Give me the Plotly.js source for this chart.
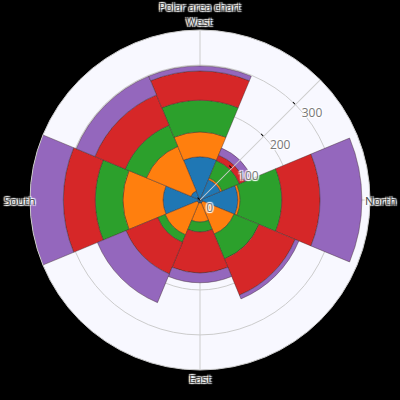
<!DOCTYPE html>
<html>
<head>
<meta charset="utf-8">
<script src="https://cdn.plot.ly/plotly-3.0.1.min.js"></script>
<style>html,body{margin:0;padding:0;background:#000;}#chart{width:400px;height:400px;}</style>
</head>
<body>
<div id="chart"></div>
<script>
// directions in degrees, measured clockwise from North (right side)
var angles = [0, 45, 90, 135, 180, 225, 270, 315];
var tickAngles = [0, 90, 180, 270];
var tickLabels = ["North", "East", "South", "West"];

var series1 = [84, 7, 7, 7, 82, 22, 96, 49];
var series2 = [5, 75, 42, 77, 89, 107, 55, 4];
var series3 = [93, 60, 22, 18, 62, 51, 71, 42];
var series4 = [85, 87, 91, 76, 71, 73, 65, 13];
var series5 = [93, 9, 22, 69, 74, 45, 11, 17];

var colors = ["#1f77b4", "#ff7f0e", "#2ca02c", "#d62728", "#9467bd"];
var allSeries = [series1, series2, series3, series4, series5];

var traces = allSeries.map(function (s, i) {
  return {
    type: "barpolar",
    r: s,
    theta: angles,
    name: "Series " + (i + 1),
    marker: {color: colors[i], line: {color: "rgba(60,40,40,0.6)", width: 0.7}}
  };
});

// direction labels placed just outside the polar disk (clockwise from the right)
var annotations = tickAngles.map(function (a, i) {
  var rad = a * Math.PI / 180;
  var lr = (a % 180 === 0) ? 0.531 : 0.526;
  return {
    text: tickLabels[i],
    xref: "paper", yref: "paper",
    x: 0.5 + lr * Math.cos(rad),
    y: 0.5 - lr * Math.sin(rad),
    xanchor: "center", yanchor: "middle",
    showarrow: false,
    font: {size: 11.5, color: "#444", shadow: "auto"}
  };
});

var layout = {
  width: 400,
  height: 400,
  paper_bgcolor: "#000000",
  showlegend: false,
  margin: {l: 30, r: 30, t: 30, b: 30},
  font: {family: "Open Sans, Arial, sans-serif", size: 12, color: "#444", shadow: "auto"},
  title: {text: "Polar area chart", x: 0.5, xref: "paper", yref: "container", y: 0.9825, yanchor: "middle", font: {size: 11}},
  annotations: annotations,
  polar: {
    bgcolor: "#f8f8ff",
    bargap: 0,
    barmode: "stack",
    domain: {x: [0, 1], y: [0, 1]},
    angularaxis: {
      direction: "clockwise",
      rotation: 0,
      tickmode: "array",
      tickvals: tickAngles,
      showticklabels: false,
      gridcolor: "#cccccc",
      linecolor: "#cccccc",
      ticks: ""
    },
    radialaxis: {
      angle: 45,
      range: [0, 378],
      dtick: 100,
      gridcolor: "#cccccc",
      linecolor: "#cccccc",
      ticks: "inside",
      ticklen: 3,
      tickcolor: "#000",
      tickangle: 45,
      tickfont: {size: 12, color: "#777"}
    }
  }
};

Plotly.newPlot("chart", traces, layout, {displayModeBar: false});
</script>
</body>
</html>
